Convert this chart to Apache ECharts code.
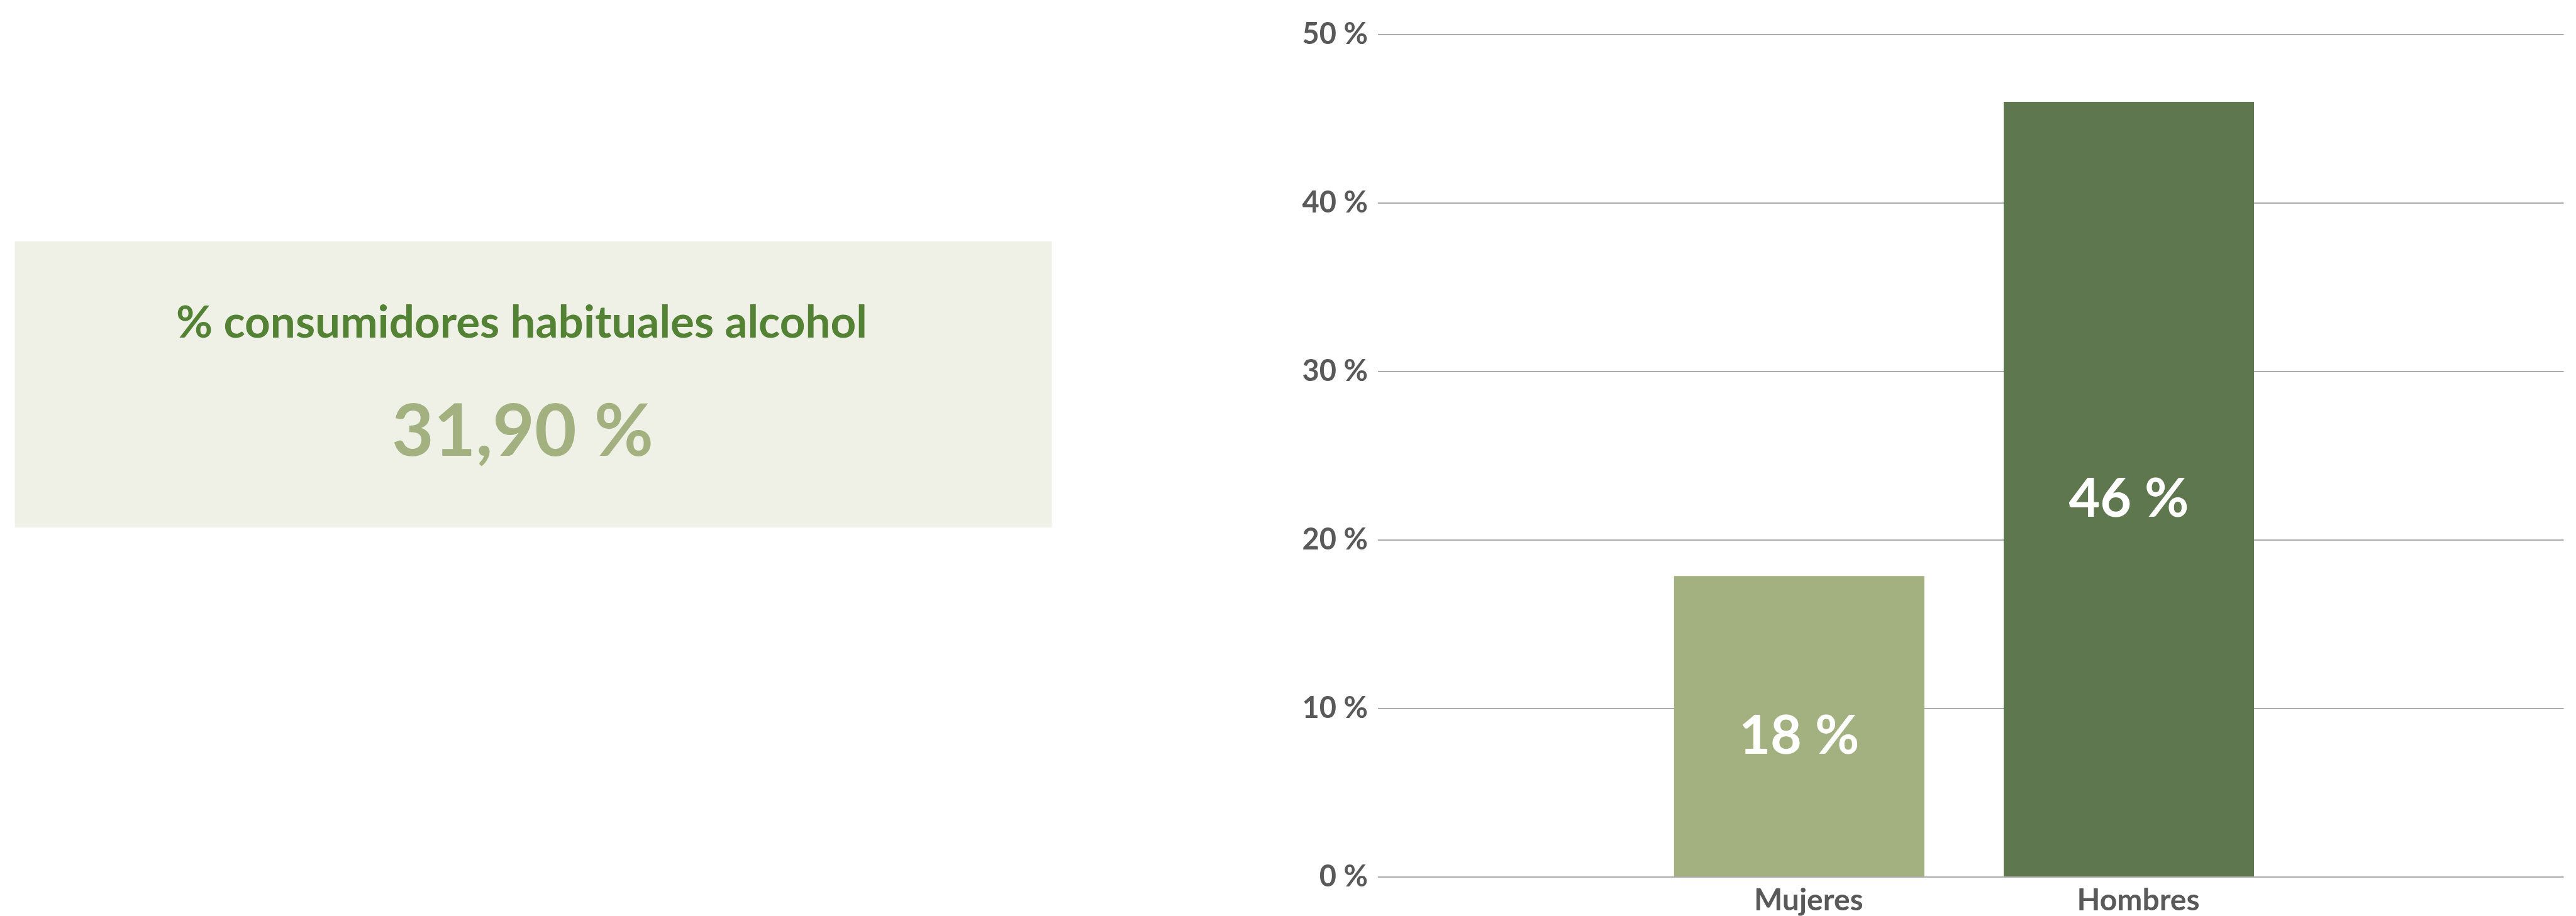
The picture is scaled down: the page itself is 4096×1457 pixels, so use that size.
<!DOCTYPE html>
<html>
<head>
<meta charset="utf-8">
<script src="https://cdn.jsdelivr.net/npm/echarts@6/dist/echarts.min.js"></script>
<style>
html,body{margin:0;padding:0;background:#ffffff;}
#chart{width:4096px;height:1457px;}
</style>
</head>
<body>
<div id="chart"></div>
<script>
// ---- data ----
const categories = ['Mujeres', 'Hombres'];
const values = [17.84, 46.0];
const barColors = ['#A2B17F', '#5E774F'];
const yTicks = [0, 10, 20, 30, 40, 50];
const summaryTitle = '% consumidores habituales alcohol';
const summaryValue = '31,90 %';

const FONT = 'Lato, "Open Sans", sans-serif';
const chart = echarts.init(document.getElementById('chart'), null, {renderer: 'canvas'});

const yMin = yTicks[0], yMax = yTicks[yTicks.length - 1], yStep = yTicks[1] - yTicks[0];

const option = {
  backgroundColor: '#ffffff',
  animation: false,
  grid: [
    {left: 2191, right: 19.5, top: 54.8, bottom: 62.4, containLabel: false},
    {left: 2598.7, right: 448.9, top: 54.8, bottom: 62.4, containLabel: false}
  ],
  xAxis: [
    {gridIndex: 0, type: 'value', min: 0, max: 1, show: false},
    {
      gridIndex: 1, type: 'category', data: categories,
      axisLine: {show: false}, axisTick: {show: false},
      axisLabel: {
        color: '#595959', fontFamily: FONT, fontWeight: 'bold', fontSize: 48,
        margin: 15, padding: [0, 0, 0, 30]
      }
    }
  ],
  yAxis: [
    {
      gridIndex: 0, type: 'value', min: yMin, max: yMax, interval: yStep,
      axisLine: {show: false}, axisTick: {show: false},
      axisLabel: {
        color: '#595959', fontFamily: FONT, fontWeight: 'bold', fontSize: 47,
        margin: 16, formatter: v => v + ' %'
      },
      splitLine: {show: true, lineStyle: {color: '#ABABAB', width: 2}}
    },
    {
      gridIndex: 1, type: 'value', min: yMin, max: yMax, interval: yStep,
      show: false, splitLine: {show: false}
    }
  ],
  series: [
    {
      type: 'bar', xAxisIndex: 1, yAxisIndex: 1,
      barWidth: 398,
      data: values.map((v, i) => ({value: v, itemStyle: {color: barColors[i]}})),
      label: {
        show: true, position: 'inside', offset: [0, 16],
        color: '#ffffff', fontFamily: FONT, fontWeight: 'bold', fontSize: 86,
        formatter: p => Math.round(p.value) + ' %'
      }
    }
  ],
  graphic: [
    {
      type: 'rect', z: -1,
      shape: {x: 23.6, y: 384, width: 1649, height: 455},
      style: {fill: '#EFF1E6'}
    },
    {
      type: 'text',
      style: {
        text: summaryTitle, x: 829.5, y: 514,
        font: 'bold 71px ' + FONT, fill: '#548235',
        align: 'center', verticalAlign: 'middle',
        textAlign: 'center', textVerticalAlign: 'middle'
      }
    },
    {
      type: 'text',
      style: {
        text: summaryValue, x: 831, y: 688,
        font: 'bold 115px ' + FONT, fill: '#A2B17F',
        align: 'center', verticalAlign: 'middle',
        textAlign: 'center', textVerticalAlign: 'middle'
      }
    }
  ]
};
chart.setOption(option);
</script>
</body>
</html>
